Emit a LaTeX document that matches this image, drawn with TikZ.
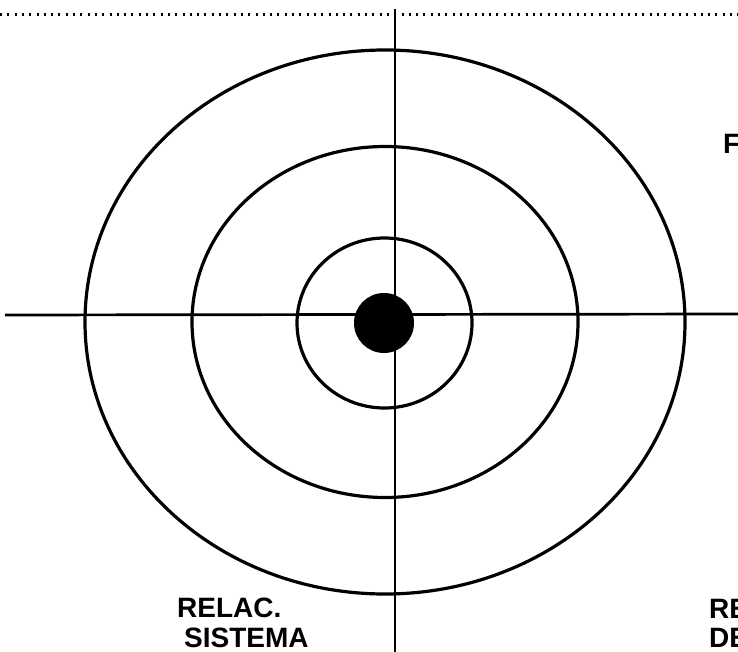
\documentclass[tikz,border=0pt]{standalone}
\usepackage{fontspec}
\setmainfont{Liberation Sans}
\begin{document}
\begin{tikzpicture}[x=1pt,y=-1pt,
  ring/.style={line width=3.2pt},
  axis/.style={line width=2.7pt},
  dotline/.style={line width=3pt,dash pattern=on 2pt off 5.3pt},
  lbl/.style={font=\fontsize{28}{30}\selectfont\bfseries,inner sep=0pt,anchor=base west}]
\useasboundingbox (0,0) rectangle (738,652);
\clip (0,0) rectangle (738,652);
\fill[white] (0,0) rectangle (738,652);
% dotted top line
\coordinate (dl) at (0,15);
\coordinate (dr) at (738,15);
\draw[dotline] (dl) -- (dr);
% rings
\coordinate (c) at (385,322);
\draw[ring] (c) ellipse [x radius=300, y radius=272];
\draw[ring] (c) ellipse [x radius=193, y radius=175.5];
\draw[ring] (384.5,323) ellipse [x radius=87.5, y radius=85];
% axes
\coordinate (vt) at (395,9);
\coordinate (vb) at (395,652);
\coordinate (hl) at (5,315);
\coordinate (hr) at (738,314);
\draw[axis] (vt) -- (vb);
\draw[axis] (hl) -- (hr);
% centre dot
\fill (384,323) circle [radius=30];
% labels
\node[lbl] (f) at (723,154) {F};
\node[lbl] (r1) at (177,617) {RELAC.};
\node[lbl] (r2) at (184,647) {SISTEMA};
\node[lbl] (e1) at (709,618) {RE};
\node[lbl] (e2) at (709,647) {DE};
\end{tikzpicture}
\end{document}
